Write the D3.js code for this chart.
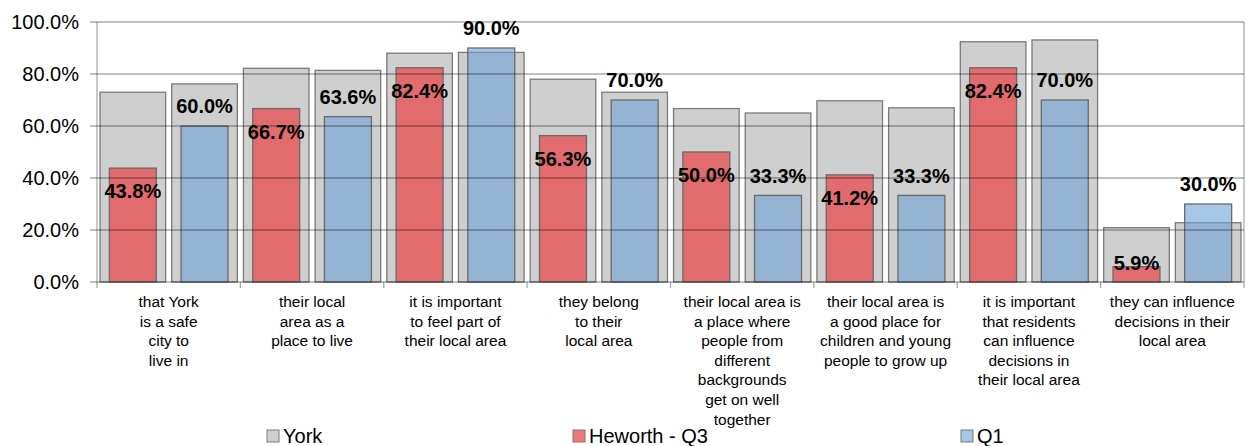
<!DOCTYPE html>
<html>
<head>
<meta charset="utf-8">
<script src="https://cdn.jsdelivr.net/npm/d3@7"></script>
<style>
  html, body { margin: 0; padding: 0; background: #fff; }
  svg { display: block; font-family: Arial, "Liberation Sans", sans-serif; }
</style>
</head>
<body>
<svg id="chart" width="1251" height="446"></svg>
<script>
// ---- data ----
const categories = [
  ["that York", "is a safe", "city to", "live in"],
  ["their local", "area as a", "place to live"],
  ["it is important", "to feel part of", "their local area"],
  ["they belong", "to their", "local area"],
  ["their local area is", "a place where", "people from", "different", "backgrounds", "get on well", "together"],
  ["their local area is", "a good place for", "children and young", "people to grow up"],
  ["it is important", "that residents", "can influence", "decisions in", "their local area"],
  ["they can influence", "decisions in their", "local area"]
];
const yorkQ3 = [73.0, 82.2, 88.0, 78.0, 66.7, 69.7, 92.4, 20.9];
const yorkQ1 = [76.2, 81.4, 88.3, 73.0, 65.0, 67.0, 93.1, 22.8];
const heworthQ3 = [43.8, 66.7, 82.4, 56.3, 50.0, 41.2, 82.4, 5.9];
const q1 = [60.0, 63.6, 90.0, 70.0, 33.3, 33.3, 70.0, 30.0];
const yTicks = [0, 20, 40, 60, 80, 100];
const legendItems = ["York", "Heworth - Q3", "Q1"];

// ---- layout ----
const svg = d3.select("#chart");
const X0 = 97, X1 = 1244, YT = 22, YB = 282;
const idx = categories.map((d, i) => i);
const x = d3.scaleBand().domain(idx).range([X0, X1]).padding(0);
const sub = d3.scaleBand().domain([0, 1]).range([0, x.bandwidth()]).padding(0);
const y = d3.scaleLinear().domain([0, 100]).range([YB, YT]);

const greyFill = "#cfcfcf", barStroke = "#7a7a7a";
const redFill = "rgb(238,40,45)", blueFill = "rgb(110,160,212)";
const gw = sub.bandwidth() * 0.915, cw = sub.bandwidth() * 0.655;

// grey (York) bars
function greyBars(vals, slot) {
  svg.append("g").selectAll("rect").data(vals).join("rect")
    .attr("x", (d, i) => x(i) + sub(slot) + (sub.bandwidth() - gw) / 2)
    .attr("y", d => y(d))
    .attr("width", gw)
    .attr("height", d => y(0) - y(d))
    .attr("fill", greyFill)
    .attr("stroke", barStroke)
    .attr("stroke-width", 1.3);
}
greyBars(yorkQ3, 0);
greyBars(yorkQ1, 1);

function colBars(vals, slot, fill) {
  svg.append("g").selectAll("rect").data(vals).join("rect")
    .attr("x", (d, i) => x(i) + sub(slot) + (sub.bandwidth() - cw) / 2)
    .attr("y", d => y(d))
    .attr("width", cw)
    .attr("height", d => y(0) - y(d))
    .attr("fill", fill)
    .attr("fill-opacity", 0.6)
    .attr("stroke", "#6a6a6a")
    .attr("stroke-width", 1.3);
}
colBars(heworthQ3, 0, redFill);
colBars(q1, 1, blueFill);

// gridlines on top
svg.append("g").selectAll("line").data(yTicks).join("line")
  .attr("x1", X0 - 7).attr("x2", X1)
  .attr("y1", d => y(d)).attr("y2", d => y(d))
  .attr("stroke", "rgba(0,0,0,0.33)")
  .attr("stroke-width", 1.3);
// plot border sides
svg.append("line").attr("x1", X0).attr("x2", X0).attr("y1", YT).attr("y2", YB + 6)
  .attr("stroke", "rgba(0,0,0,0.33)").attr("stroke-width", 1.3);
svg.append("line").attr("x1", X1).attr("x2", X1).attr("y1", YT).attr("y2", YB + 6)
  .attr("stroke", "rgba(0,0,0,0.33)").attr("stroke-width", 1.3);
// category ticks
svg.append("g").selectAll("line").data(idx.slice(1)).join("line")
  .attr("x1", d => x(d)).attr("x2", d => x(d))
  .attr("y1", YB).attr("y2", YB + 6)
  .attr("stroke", "rgba(0,0,0,0.33)").attr("stroke-width", 1.3);

// y tick labels
svg.append("g").selectAll("text").data(yTicks).join("text")
  .attr("x", 79).attr("y", d => y(d))
  .attr("dy", "0.36em")
  .attr("text-anchor", "end")
  .attr("font-size", 20)
  .attr("fill", "#000")
  .text(d => d3.format(".1f")(d) + "%");

// data labels
const fmt = d => d3.format(".1f")(d) + "%";
svg.append("g").selectAll("text").data(heworthQ3).join("text")
  .attr("x", (d, i) => x(i) + sub(0) + sub.bandwidth() / 2)
  .attr("y", d => (y(0) - y(d) > 35 ? y(d) + 23 : y(d) - 4))
  .attr("dy", "0.36em")
  .attr("text-anchor", "middle")
  .attr("font-size", 20).attr("font-weight", "bold")
  .text(fmt);
svg.append("g").selectAll("text").data(q1).join("text")
  .attr("x", (d, i) => x(i) + sub(1) + sub.bandwidth() / 2)
  .attr("y", d => y(d) - 20)
  .attr("dy", "0.36em")
  .attr("text-anchor", "middle")
  .attr("font-size", 20).attr("font-weight", "bold")
  .text(fmt);

// category labels
const catG = svg.append("g").selectAll("text").data(categories).join("text")
  .attr("x", (d, i) => x(i) + x.bandwidth() / 2)
  .attr("y", 307)
  .attr("text-anchor", "middle")
  .attr("font-size", 15.5)
  .attr("fill", "#000");
catG.selectAll("tspan").data(d => d).join("tspan")
  .attr("x", function () { return d3.select(this.parentNode).attr("x"); })
  .attr("dy", (d, i) => (i === 0 ? 0 : 19.6))
  .text(d => d);

// legend
const legX = [267, 573, 961];
const legFill = [greyFill, "rgb(240,120,122)", "rgb(168,198,230)"];
const leg = svg.append("g").selectAll("g").data(legendItems).join("g")
  .attr("transform", (d, i) => `translate(${legX[i]},430)`);
leg.append("rect").attr("width", 12).attr("height", 12)
  .attr("fill", (d, i) => legFill[i]).attr("stroke", "#7a7a7a").attr("stroke-width", 1);
leg.append("text").attr("x", 16).attr("y", 12.5)
  .attr("font-size", 20).attr("fill", "#000").text(d => d);
</script>
</body>
</html>
